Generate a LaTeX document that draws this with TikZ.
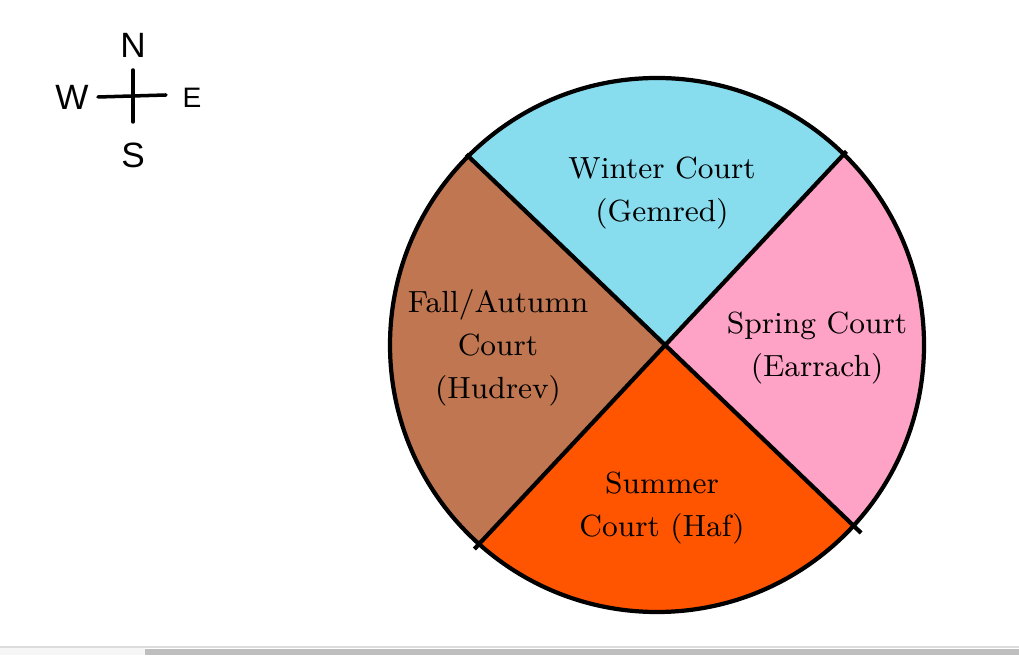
\documentclass[tikz,border=0pt]{standalone}
\usepackage{fontspec}
\setsansfont{Liberation Sans}
\usetikzlibrary{calc}
\definecolor{wintblue}{HTML}{87DCEE}
\definecolor{sprpink}{HTML}{FFA3C6}
\definecolor{sumorange}{HTML}{FF5500}
\definecolor{fallbrown}{HTML}{C07650}
\definecolor{barfill}{HTML}{BEBEBE}
\definecolor{barpale}{HTML}{F6F6F6}
\definecolor{barline}{HTML}{DCDCDC}

\begin{document}
\begin{tikzpicture}[
  x=0.01cm, y=0.01cm,
  court/.style={align=center, inner sep=0pt, font=\fontsize{8.7}{12.3}\selectfont},
  point/.style={font=\fontsize{10}{12}\selectfont\sffamily, inner sep=0pt},
  rim/.style={line width=1.2pt},
  cross/.style={line width=1pt, line cap=round}]

  \useasboundingbox (0,0) rectangle (1019,655);

  \def\r{267}   % wheel radius
  \coordinate (c) at (657,310);   % wheel centre
  \coordinate (x) at (665,310);   % where the dividers cross

  % ---- sectors ---------------------------------------------------------
  \foreach \a/\b/\col in {45.6/135/wintblue, 135/228.2/fallbrown,
                          228.2/317.4/sumorange, 317.4/405.6/sprpink} {
    \fill[\col] (x) -- ($(c)+(\a:\r)$) arc[start angle=\a, end angle=\b,
                 radius=\r] -- cycle;
  }
  \draw[rim] (c) circle[radius=\r];

  % ---- dividing lines --------------------------------------------------
  \coordinate (nw) at ($(c)+(135:\r)$);
  \coordinate (ne) at ($(c)+(45.6:\r)$);
  \coordinate (sw) at ($(c)+(228.2:\r)$);
  \coordinate (se) at ($(c)+(317.4:\r)$);
  \draw[rim] ($(x)!1.01!(nw)$) -- ($(x)!1.04!(se)$);
  \draw[rim] ($(x)!1.015!(ne)$) -- ($(x)!1.025!(sw)$);

  % ---- labels ----------------------------------------------------------
  \node[court] (winter) at (662,462) {Winter Court\\(Gemred)};
  \node[court] (fall)   at (498,307) {Fall/Autumn\\Court\\(Hudrev)};
  \node[court] (spring) at (817,307) {Spring Court\\(Earrach)};
  \node[court] (summer) at (662,147) {Summer\\Court (Haf)};

  % ---- compass ---------------------------------------------------------
  \node[point] (N) at (133,610) {N};
  \node[point] (W) at (72,558)  {W};
  \node[point, font=\fontsize{8}{10}\selectfont\sffamily] (E) at (192,557) {E};
  \node[point] (S) at (133,500) {S};
  \coordinate (ct) at (133,585);
  \coordinate (cb) at (133,533);
  \coordinate (cl) at (98,558);
  \coordinate (cr) at (166,560);
  \draw[cross] (ct) -- (cb);
  \draw[cross] (cl) -- (cr);

  % ---- bottom strip ----------------------------------------------------
  \fill[barpale] (0,0) rectangle (145,7);
  \fill[barfill] (145,0) rectangle (1019,6);
  \draw[barline, line width=0.3pt] (0,8) -- (1019,8);
\end{tikzpicture}
\end{document}
